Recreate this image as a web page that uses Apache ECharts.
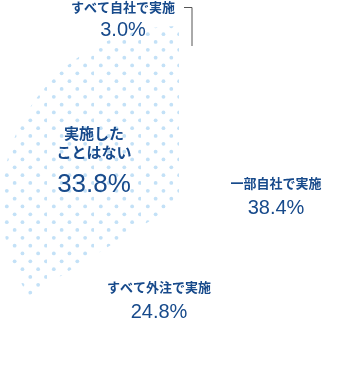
<!DOCTYPE html>
<html><head><meta charset="utf-8">
<script src="https://cdn.jsdelivr.net/npm/echarts@6/dist/echarts.min.js"></script>
<style>html,body{margin:0;padding:0;background:#fff}#c{width:356px;height:381px}</style>
</head><body><div id="c"></div>
<script>
// Data
const categories = ['すべて自社で実施', '一部自社で実施', 'すべて外注で実施', '実施した\nことはない'];
const values = [3.0, 38.4, 24.8, 33.8];
const valueLabels = ['3.0%', '38.4%', '24.8%', '33.8%'];

// Label placement (pixels) - layout only
const labelPos = [[123, 21.5], [276, 197], [159, 301], [94, 166]];

// dotted pattern tile
const tile = document.createElement('canvas');
const T = 47, step = T / 6;
tile.width = T; tile.height = T;
const g = tile.getContext('2d');
g.fillStyle = '#c3e1f7';
for (let i = 0; i < 6; i++) for (let j = 0; j < 6; j++) {
  if ((i + j) % 2) continue;
  g.beginPath();
  g.arc(6.8 + i * step - (6.8 + i * step > T ? T : 0), 2.8 + j * step, 1.9, 0, Math.PI * 2);
  g.fill();
}
const dotted = { image: tile, repeat: 'repeat' };

const numFont = '"Liberation Sans", Arial, sans-serif';
const jpFont = '"Noto Sans CJK JP", sans-serif';
const textColor = '#174a8b';

const chart = echarts.init(document.getElementById('c'), null, { renderer: 'canvas' });
chart.setOption({
  animation: false,
  series: [{
    type: 'pie',
    center: [179, 203],
    radius: [0, 177],
    startAngle: 90,
    clockwise: true,
    avoidLabelOverlap: false,
    itemStyle: { borderWidth: 0 },
    label: {
      show: true,
      position: 'outside',
      align: 'center',
      formatter: p => '{n|' + p.name.split('\n').join('}\n{n|') + '}\n{v|' + valueLabels[p.dataIndex] + '}',
      rich: {
        n: { fontFamily: jpFont, fontWeight: 'bold', fontSize: 13, lineHeight: 22, color: textColor, align: 'center' },
        v: { fontFamily: numFont, fontSize: 20, lineHeight: 28, color: textColor, align: 'center' }
      }
    },
    labelLine: { show: false },
    emphasis: { disabled: true },
    labelLayout: function (p) {
      const pos = labelPos[p.dataIndex];
      const r = { x: pos[0], y: pos[1], align: 'center', verticalAlign: 'middle' };
      if (p.dataIndex === 0) r.labelLinePoints = [[192, 46], [192, 7.5], [184, 7.5]];
      return r;
    },
    data: categories.map((c, i) => {
      const d = { name: c, value: values[i], itemStyle: { color: 'rgba(255,255,255,0)' } };
      if (i === 0) {
        d.labelLine = { show: true, lineStyle: { color: '#555', width: 1 } };
        d.label = {
          rich: {
            n: { fontFamily: jpFont, fontWeight: 'bold', fontSize: 13, lineHeight: 17, color: textColor, align: 'center' },
            v: { fontFamily: numFont, fontSize: 20, lineHeight: 28, color: textColor, align: 'center' }
          }
        };
      }
      if (i === 3) {
        d.itemStyle = { color: dotted };
        d.label = {
          rich: {
            n: { fontFamily: jpFont, fontWeight: 'bold', fontSize: 15, lineHeight: 19, color: textColor, align: 'center' },
            v: { fontFamily: numFont, fontSize: 26, lineHeight: 46, color: textColor, align: 'center' }
          }
        };
      }
      return d;
    })
  }]
});
</script></body></html>
